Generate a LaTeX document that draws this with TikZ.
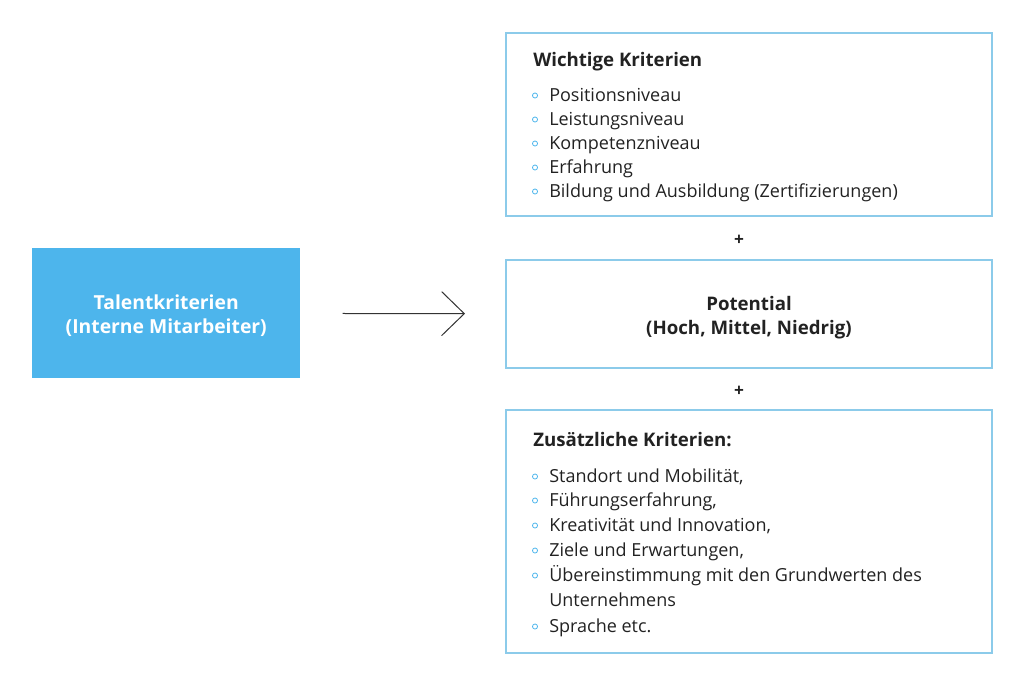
\documentclass[tikz,border=0pt]{standalone}
\usepackage{fontspec}
\setmainfont{Open Sans}
\usetikzlibrary{arrows.meta}
\definecolor{talentblue}{HTML}{4DB5EC}
\definecolor{frameblue}{HTML}{8CCBEA}
\definecolor{textgray}{HTML}{222222}
\definecolor{arrowgray}{HTML}{333333}
\tikzset{
  critbox/.style={draw=frameblue,line width=0.9pt,inner sep=0pt,outer sep=0pt,anchor=north west,minimum width=364.5pt},
  crittitle/.style={anchor=west,inner sep=0pt,text=textgray,text height=13pt,text depth=3pt,font=\fontsize{14}{18}\selectfont\bfseries},
  crititem/.style={anchor=west,inner sep=0pt,text=textgray,text height=12.5pt,text depth=2.5pt,font=\fontsize{13.5}{18}\selectfont},
  critdot/.style={draw=talentblue,line width=0.6pt},
}
\begin{document}
\begin{tikzpicture}[x=0.75pt,y=-0.75pt]
            \useasboundingbox (0,0) rectangle (1024,686);
            \node [fill=talentblue,inner sep=0pt,anchor=north west,minimum width=201pt,minimum height=97.5pt] (talent) at (32,248) {};
            \node [align=center,text=white,font=\fontsize{14.5}{18}\selectfont\bfseries] (talentlabel)
                   at ([yshift=-1.5pt]talent.center) {Talentkriterien\\(Interne Mitarbeiter)};
            \node [critbox,minimum height=137.25pt] (wichtig) at (506,33) {};
            \node [critbox,minimum height=81pt] (potential) at (506,260) {};
            \node [align=center,text=textgray,font=\fontsize{14}{18}\selectfont\bfseries] (potlabel)
                   at ([yshift=-3pt]potential.center) {Potential\\(Hoch, Mittel, Niedrig)};
            \node [critbox,minimum height=182.25pt] (zusatz) at (506,410) {};
            % Pfeil
            \draw [arrowgray,line width=0.75pt,shorten <=31.5pt,shorten >=30.75pt,
                   -{Straight Barb[length=17pt,width=33pt,line width=0.75pt]}] (talent) -- (potential);
            \node [text=textgray,font=\fontsize{13}{14}\selectfont\bfseries] (plus1) at (739,240) {+};
            \node [text=textgray,font=\fontsize{13}{14}\selectfont\bfseries] (plus2) at (739,391.5) {+};
            % wichtige Kriterien
            \node [crittitle] (wtitle) at (533,60) {Wichtige Kriterien};
            \foreach \y/\t in {95/Positionsniveau,119/Leistungsniveau,143/Kompetenzniveau,167/Erfahrung,191/{Bildung und Ausbildung (Zertifizierungen)}}
            {
            \draw [critdot] (535,\y+0.5) circle [radius=1.9pt];
            \node [crititem] (w\y) at (549,\y) {\t};
            }
            % zusaetzliche Kriterien
            \node [crittitle] (ztitle) at (533,440) {Zusätzliche Kriterien:};
            \foreach \y/\t in {476/{Standort und Mobilität,},500/{Führungserfahrung,},525/{Kreativität und Innovation,},550/{Ziele und Erwartungen,},575/{Übereinstimmung mit den Grundwerten des},626/{Sprache etc.}}
            {
            \draw [critdot] (535,\y+0.5) circle [radius=1.9pt];
            \node [crititem] (z\y) at (549,\y) {\t};
            }
            \node [crititem] (z600) at (549,600) {Unternehmens};
            \end{tikzpicture}
\end{document}
